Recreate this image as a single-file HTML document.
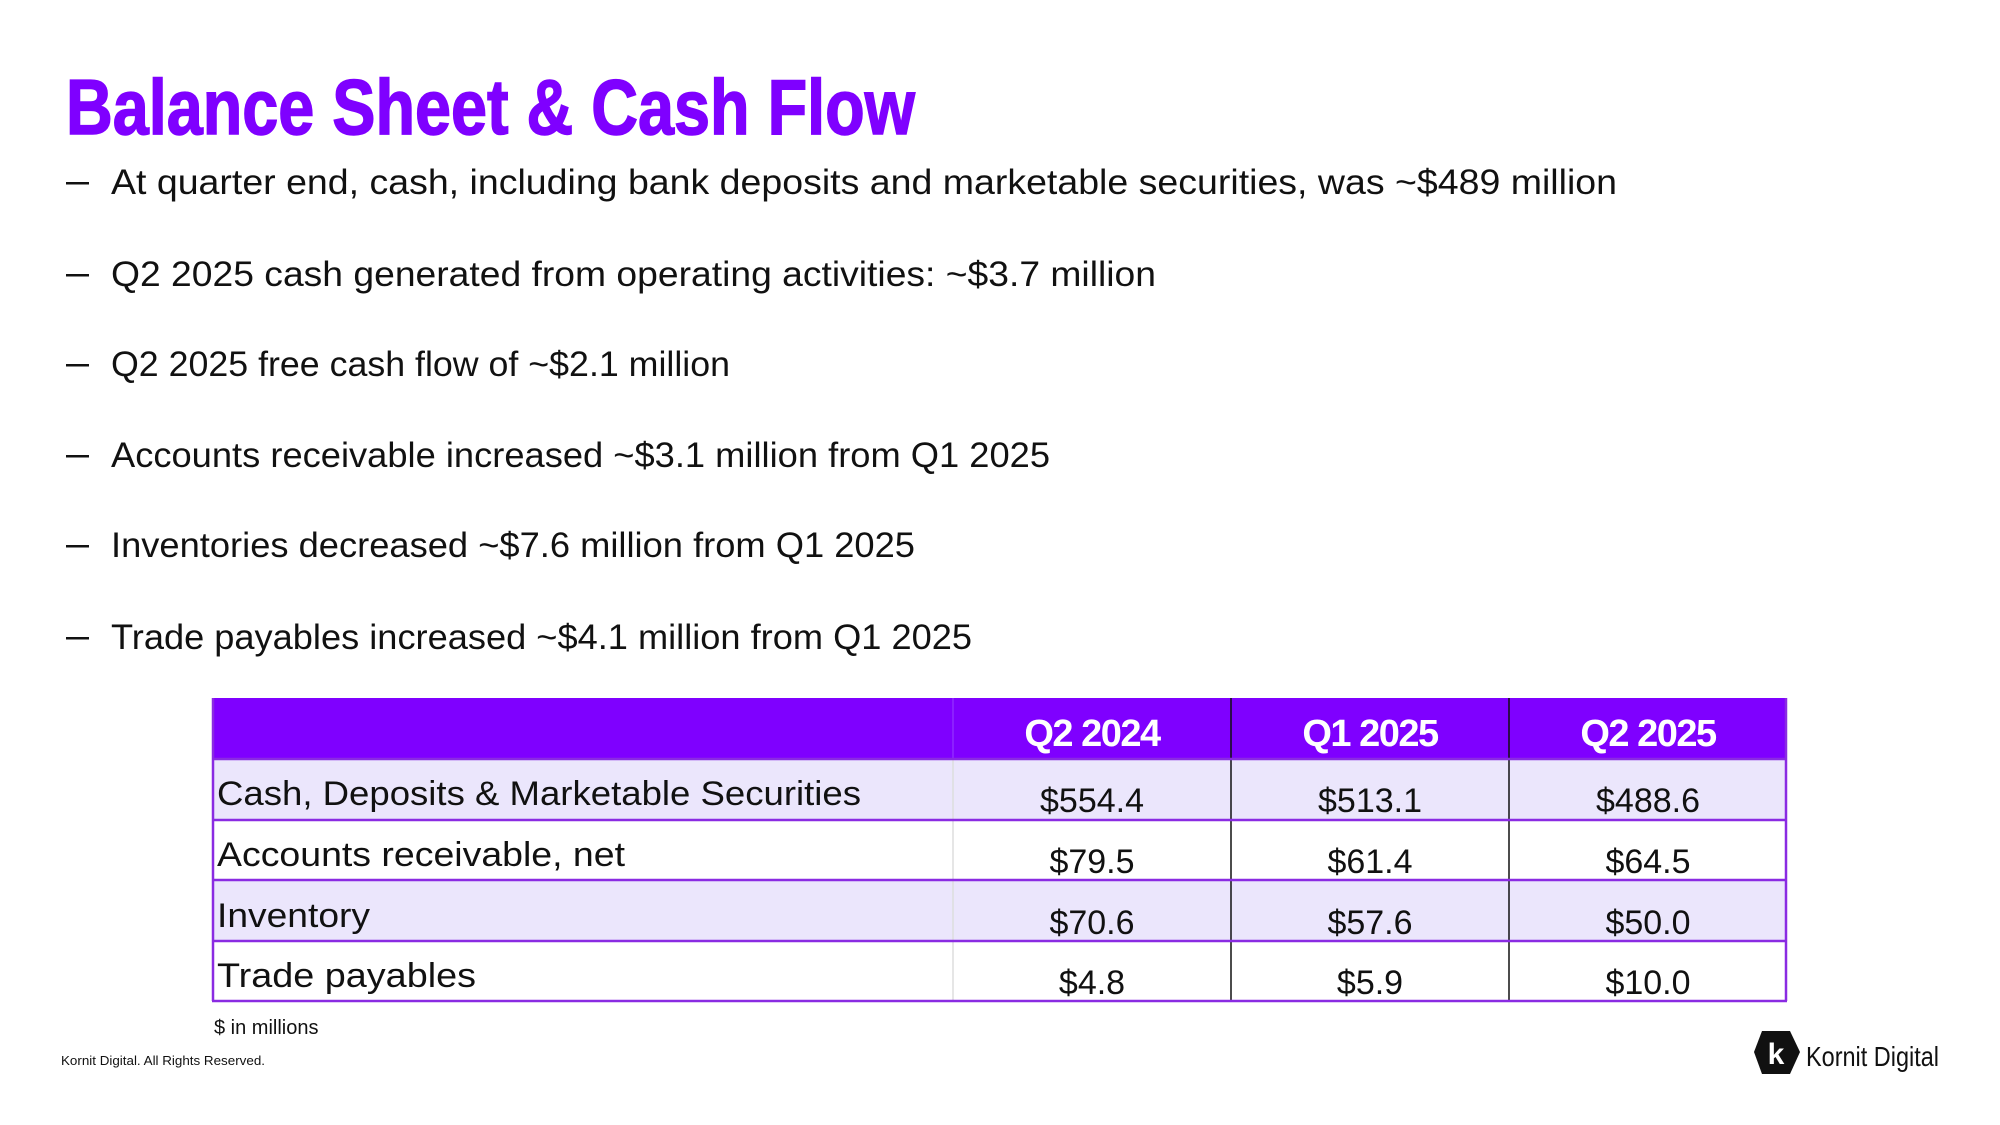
<!DOCTYPE html>
<html><head><meta charset="utf-8"><style>
html,body{margin:0;padding:0;background:#fff;}
svg{display:block;font-family:"Liberation Sans",sans-serif;}
</style></head><body>
<svg width="2000" height="1125" viewBox="0 0 2000 1125">
<text x="66" y="134" font-size="78" font-weight="bold" fill="#7f00ff" stroke="#7f00ff" stroke-width="1.5" textLength="849" lengthAdjust="spacingAndGlyphs">Balance Sheet &amp; Cash Flow</text>
<g font-size="35" fill="#111">
<g fill="#111">
<rect x="66" y="182" width="23" height="2.5"/>
<rect x="66" y="274" width="23" height="2.5"/>
<rect x="66" y="364" width="23" height="2.5"/>
<rect x="66" y="455" width="23" height="2.5"/>
<rect x="66" y="545" width="23" height="2.5"/>
<rect x="66" y="637" width="23" height="2.5"/>
</g>
<text x="111" y="194" textLength="1506" lengthAdjust="spacingAndGlyphs">At quarter end, cash, including bank deposits and marketable securities, was ~$489 million</text>
<text x="111" y="286" textLength="1045" lengthAdjust="spacingAndGlyphs">Q2 2025 cash generated from operating activities: ~$3.7 million</text>
<text x="111" y="376" textLength="619" lengthAdjust="spacingAndGlyphs">Q2 2025 free cash flow of ~$2.1 million</text>
<text x="111" y="467" textLength="939" lengthAdjust="spacingAndGlyphs">Accounts receivable increased ~$3.1 million from Q1 2025</text>
<text x="111" y="557" textLength="804" lengthAdjust="spacingAndGlyphs">Inventories decreased ~$7.6 million from Q1 2025</text>
<text x="111" y="649" textLength="861" lengthAdjust="spacingAndGlyphs">Trade payables increased ~$4.1 million from Q1 2025</text>
</g>
<g>
<rect x="212" y="698" width="1575" height="61" fill="#7f00ff"/>
<rect x="212" y="759" width="1575" height="61" fill="#ebe6fc"/>
<rect x="212" y="820" width="1575" height="60" fill="#fff"/>
<rect x="212" y="880" width="1575" height="61" fill="#ebe6fc"/>
<rect x="212" y="941" width="1575" height="60" fill="#fff"/>
<line x1="953" y1="698" x2="953" y2="759" stroke="#9a40ff" stroke-width="1"/>
<g stroke="#111" stroke-width="1.5">
<line x1="1231" y1="698" x2="1231" y2="1001"/><line x1="1509" y1="698" x2="1509" y2="1001"/>
<line x1="953" y1="759" x2="953" y2="1001" stroke="#ddd"/>
</g>
<g stroke="#8a2be2" stroke-width="2.5">
<line x1="212" y1="759" x2="1787" y2="759"/><line x1="212" y1="820" x2="1787" y2="820"/>
<line x1="212" y1="880" x2="1787" y2="880"/><line x1="212" y1="941" x2="1787" y2="941"/>
<line x1="212" y1="1001" x2="1787" y2="1001"/>
<line x1="213" y1="698" x2="213" y2="1001"/><line x1="1786" y1="698" x2="1786" y2="1001"/>
</g>
<g font-size="38" font-weight="bold" fill="#fff" text-anchor="middle" letter-spacing="-1.5">
<text x="1092" y="746">Q2 2024</text>
<text x="1370" y="746">Q1 2025</text>
<text x="1648" y="746">Q2 2025</text>
</g>
<g font-size="34" fill="#111">
<text x="217" y="805" textLength="644" lengthAdjust="spacingAndGlyphs">Cash, Deposits &amp; Marketable Securities</text>
<text x="217" y="866" textLength="408" lengthAdjust="spacingAndGlyphs">Accounts receivable, net</text>
<text x="217" y="927" textLength="153" lengthAdjust="spacingAndGlyphs">Inventory</text>
<text x="217" y="987" textLength="259" lengthAdjust="spacingAndGlyphs">Trade payables</text>
</g>
<g font-size="34" fill="#111" text-anchor="middle">
<text x="1092" y="812">$554.4</text><text x="1370" y="812">$513.1</text><text x="1648" y="812">$488.6</text>
<text x="1092" y="873">$79.5</text><text x="1370" y="873">$61.4</text><text x="1648" y="873">$64.5</text>
<text x="1092" y="934">$70.6</text><text x="1370" y="934">$57.6</text><text x="1648" y="934">$50.0</text>
<text x="1092" y="994">$4.8</text><text x="1370" y="994">$5.9</text><text x="1648" y="994">$10.0</text>
</g>
</g>
<text x="214" y="1034" font-size="20" fill="#111">$ in millions</text>
<text x="61" y="1065" font-size="13" fill="#111" textLength="204" lengthAdjust="spacingAndGlyphs">Kornit Digital. All Rights Reserved.</text>
<g>
<polygon points="1762,1031 1790,1031 1800,1052 1790,1074 1762,1074 1754,1052" fill="#111"/>
<text x="1776" y="1064" font-size="30" font-weight="bold" fill="#fff" text-anchor="middle">k</text>
<text x="1806" y="1066" font-size="28" fill="#111" textLength="133" lengthAdjust="spacingAndGlyphs">Kornit Digital</text>
</g>
</svg>
</body></html>
